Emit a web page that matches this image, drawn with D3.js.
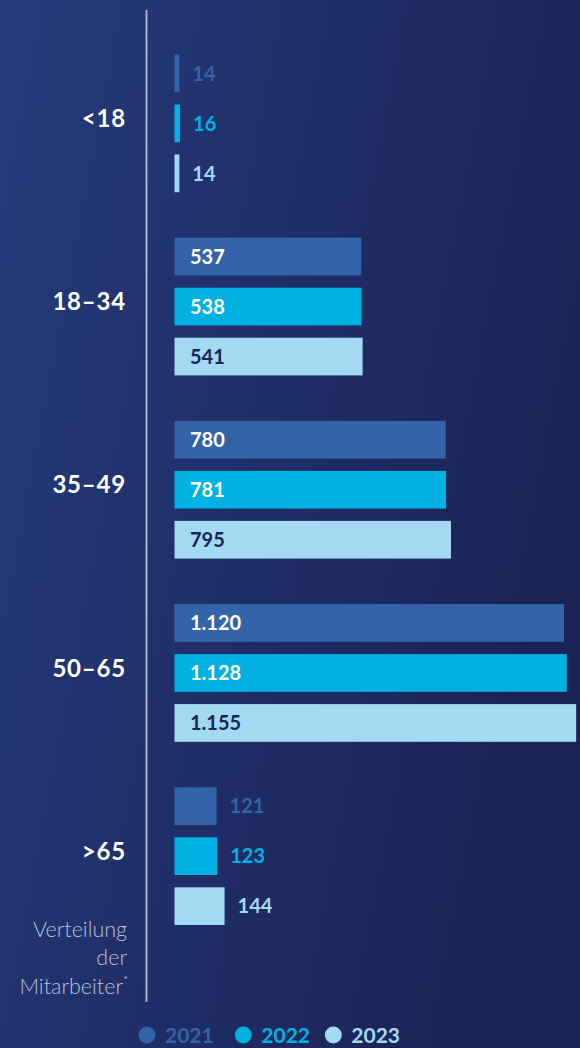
<!DOCTYPE html>
<html>
<head>
<meta charset="utf-8">
<script src="https://cdn.jsdelivr.net/npm/d3@7"></script>
<style>
  html, body { margin: 0; padding: 0; background: #1e2c66; }
  svg { display: block; font-family: Lato, "Open Sans", sans-serif; }
</style>
</head>
<body>
<div id="chart"></div>
<script>
const ageGroups = ["<18", "18–34", "35–49", "50–65", ">65"];
const years = ["2021", "2022", "2023"];
const values2021 = [14, 537, 780, 1120, 121];
const values2022 = [16, 538, 781, 1128, 123];
const values2023 = [14, 541, 795, 1155, 144];
const valueLabels2021 = ["14", "537", "780", "1.120", "121"];
const valueLabels2022 = ["16", "538", "781", "1.128", "123"];
const valueLabels2023 = ["14", "541", "795", "1.155", "144"];

const width = 580, height = 1048;
const colors = { "2021": "#3363a8", "2022": "#00b1e1", "2023": "#a3d9f3" };

const series = {
  "2021": { values: values2021, labels: valueLabels2021 },
  "2022": { values: values2022, labels: valueLabels2022 },
  "2023": { values: values2023, labels: valueLabels2023 }
};

const data = [];
ageGroups.forEach((g, i) => {
  years.forEach(yr => {
    data.push({ group: g, year: yr, value: series[yr].values[i], label: series[yr].labels[i] });
  });
});

const svg = d3.select("#chart")
  .append("svg")
  .attr("width", width)
  .attr("height", height);

// background gradient
const grad = svg.append("defs").append("linearGradient")
  .attr("id", "bg")
  .attr("x1", 0).attr("y1", 0).attr("x2", 1).attr("y2", 0.35);
grad.append("stop").attr("offset", "0%").attr("stop-color", "#253b7c");
grad.append("stop").attr("offset", "100%").attr("stop-color", "#1b2356");

svg.append("rect")
  .attr("width", width)
  .attr("height", height)
  .attr("fill", "url(#bg)");

const x = d3.scaleLinear()
  .domain([0, 1120])
  .range([174.5, 564]);

const y = d3.scaleBand()
  .domain(ageGroups)
  .range([54.5, 54.5 + 5 * 183.2]);

const yInner = d3.scaleBand()
  .domain(years)
  .range([0, 137.7])
  .paddingInner(0.246);

// axis line
svg.append("line")
  .attr("x1", 146.5).attr("x2", 146.5)
  .attr("y1", 10).attr("y2", 1002)
  .attr("stroke", "#b6bdd2")
  .attr("stroke-width", 1.8);

const g = svg.append("g");

g.selectAll("rect.bar")
  .data(data)
  .enter()
  .append("rect")
    .attr("class", "bar")
    .attr("x", x(0))
    .attr("y", d => y(d.group) + yInner(d.year))
    .attr("width", d => x(d.value) - x(0))
    .attr("height", yInner.bandwidth())
    .attr("fill", d => colors[d.year]);

g.selectAll("text.val")
  .data(data)
  .enter()
  .append("text")
    .attr("class", "val")
    .attr("x", d => d.value > 200 ? x(0) + 15.5 : x(d.value) + 13)
    .attr("y", d => y(d.group) + yInner(d.year) + yInner.bandwidth() / 2)
    .attr("dy", "0.36em")
    .attr("font-size", 20)
    .attr("font-weight", 700)
    .attr("fill", d => {
      if (d.value <= 200) return colors[d.year];
      return d.year === "2023" ? "#1b2456" : "#ffffff";
    })
    .text(d => d.label);

// category labels
svg.selectAll("text.cat")
  .data(ageGroups)
  .enter()
  .append("text")
    .attr("class", "cat")
    .attr("x", 126)
    .attr("y", d => y(d) + yInner("2022") + yInner.bandwidth() / 2 - 5)
    .attr("dy", "0.36em")
    .attr("text-anchor", "end")
    .attr("font-size", 24)
    .attr("font-weight", 700)
    .attr("letter-spacing", 0.8)
    .attr("fill", "#ffffff")
    .text(d => d);

// footnote label
const note = svg.append("text")
  .attr("text-anchor", "end")
  .attr("font-size", 21.5)
  .attr("font-weight", 300)
  .attr("fill", "#b9c0d6");
note.append("tspan").attr("x", 127).attr("y", 936.5).text("Verteilung");
note.append("tspan").attr("x", 127).attr("y", 965).text("der");
note.append("tspan").attr("x", 123).attr("y", 993.5).text("Mitarbeiter");
svg.append("text")
  .attr("x", 123.5).attr("y", 983)
  .attr("font-size", 10)
  .attr("fill", "#b9c0d6")
  .text("*");

// legend
const legendX = [147, 243.3, 333.3];
const legend = svg.selectAll("g.leg")
  .data(years)
  .enter()
  .append("g")
    .attr("class", "leg")
    .attr("transform", (d, i) => "translate(" + legendX[i] + ",1035)");
legend.append("circle")
  .attr("r", 8.5)
  .attr("fill", d => colors[d]);
legend.append("text")
  .attr("x", 18)
  .attr("dy", "0.36em")
  .attr("font-size", 21)
  .attr("font-weight", 700)
  .attr("fill", d => colors[d])
  .text(d => d);
</script>
</body>
</html>
